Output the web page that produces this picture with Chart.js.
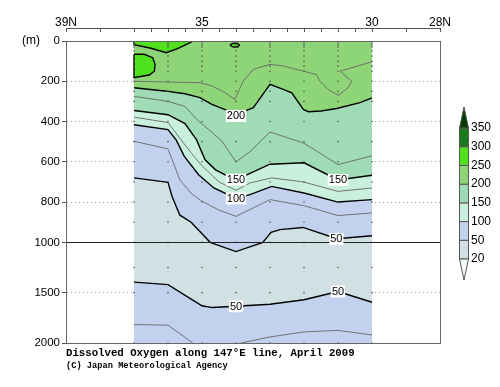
<!DOCTYPE html>
<html>
<head>
<meta charset="utf-8">
<script src="https://cdn.jsdelivr.net/npm/chart.js@4.4.1/dist/chart.umd.min.js"></script>
<style>
  html, body { margin: 0; padding: 0; background: #fff; }
</style>
</head>
<body>
<canvas id="ctx" width="500" height="387"></canvas>
<script>
// ---- values (latitude in degN, depth in m) ----
const stationLat = [37, 36, 35, 34, 33, 32, 31, 30];
const sampleDepth = [0, 10, 20, 30, 50, 75, 100, 125, 150, 200, 250, 300, 400, 500, 600, 700, 800, 900, 1000, 1250, 1500, 2000];

// colour levels (umol/kg) and the band colours between them
const levels = [20, 50, 100, 150, 200, 250, 300, 350];
const bandColors = ['#d1e0e3', '#c2d2ee', '#c9f0de', '#9fdcb6', '#8ed577', '#4fe11e', '#187c18'];
const overColor = '#033d03';
const underColor = '#f6f9f9';

// axis ticks
const xTickValues = [39, 38, 37, 36.5, 36, 35.5, 35, 34.5, 34, 33.5, 33, 32.5, 32, 31.5, 31, 30.5, 30, 29, 28];
const xLabelValues = [39, 35, 30, 28];
const xLabelText = ['39N', '35', '30', '28N'];
const yTickValues = [0, 200, 400, 600, 800, 1000, 1500, 2000];
const dottedDepths = [200, 400, 600, 800, 1500];
const breakDepth = 1000;

// thick contours
const lat50deep = [37, 36, 35, 34.7, 34, 33, 32, 31, 30];
const dep50deep = [1395, 1420, 1630, 1648, 1635, 1615, 1570, 1488, 1595];
const lat50 = [37, 36, 35.88, 35.65, 35.32, 34.76, 34, 33.21, 32.97, 32.71, 32.03, 31.03, 30];
const dep50 = [680, 702, 772, 865, 900, 1000, 1092, 1000, 950, 937, 926, 982, 967];
const lat100 = [37, 36, 35.76, 35.52, 35.1, 34.65, 34, 33.59, 32.95, 32, 31, 30];
const dep100 = [416, 440, 491, 573, 664, 730, 782, 763, 722, 755, 800, 788];
const lat150 = [37, 36, 35.5, 35.16, 34.91, 34.6, 34.23, 34, 33.59, 33, 32, 31, 30];
const dep150 = [345, 366, 410, 491, 590, 640, 672, 689, 657, 612, 605, 690, 667];
const lat200 = [37, 36.1, 35.5, 35.06, 34.71, 34.32, 34, 33.49, 33, 32.61, 32.36, 32.02, 31.87, 31.5, 31.04, 30.35, 30];
const dep200 = [232, 248, 262, 281, 315, 341, 365, 331, 215, 240, 257, 340, 351, 348, 335, 306, 282];

// closed 250 patches near the surface
const latBlobA = [37, 35.27, 35.35, 35.72, 36.05, 36.5, 37, 37];
const depBlobA = [0, 0, 8, 38, 58, 36, 18, 0];
const latBlobB = [37, 36.7, 36.45, 36.38, 36.4, 36.55, 36.9, 37, 37];
const depBlobB = [66, 66, 83, 116, 150, 169, 179, 182, 66];
const latBlobC = [34.18, 34.1, 33.97, 33.9, 33.95, 34.08, 34.18];
const depBlobC = [20, 12, 11, 20, 30, 30, 20];

// thin intermediate contours
const lat75deep = [37, 36, 35.27, null, 33.85, 33, 32, 31, 30];
const dep75deep = [1817, 1823, 2000, null, 2000, 1940, 1890, 1875, 1920];
const lat75 = [37, 36, 35.65, 35.3, 35, 34.5, 34, 33, 32, 31, 30];
const dep75 = [498, 536, 690, 760, 796, 840, 871, 788, 818, 867, 854];
const lat125 = [37, 36, 35.65, 35.3, 35, 34.5, 34, 33.59, 32.95, 32.02, 31, 30];
const dep125 = [378, 405, 483, 560, 620, 700, 742, 705, 680, 700, 747, 730];
const lat175 = [37, 36, 35.5, 35.15, 34.8, 34.42, 34, 33.59, 33, 32.5, 32.02, 31.5, 31, 30.5, 30];
const dep175 = [275, 300, 325, 390, 440, 497, 600, 550, 452, 480, 506, 560, 614, 592, 570];
const lat225 = [37, 35.06, 34.71, 34.32, 34.03, 33.79, 33.49, 33, 32.61, 32.02, 31.63, 31.53, 31.29, 30.99, 30.7, 30.6, 30.94, 30];
const dep225 = [200, 207, 223, 257, 290, 199, 141, 116, 124, 150, 167, 200, 241, 270, 232, 200, 150, 103];

// contour labels
const labelText = ['200', '150', '150', '100', '50', '50', '50'];
const labelLat = [34, 34, 31, 34, 31.05, 34, 31];
const labelDep = [372, 689, 690, 782, 983, 1635, 1488];

const titleText = 'Dissolved Oxygen along 147\u00b0E line, April 2009';
const creditText = '(C) Japan Meteorological Agency';

// depth axis: upper 1000 m takes 2/3 of the height, 1000-2000 m the rest
const UPPER_SHARE = 2 / 3;
class DepthScale extends Chart.LinearScale {
    getPixelForValue(value) {
        const d = value <= breakDepth
            ? value / breakDepth * UPPER_SHARE
            : UPPER_SHARE + (value - breakDepth) / (this.max - breakDepth) * (1 - UPPER_SHARE);
        return this.getPixelForDecimal(d);
    }
    getValueForPixel(pixel) {
        const d = this.getDecimalForPixel(pixel);
        return d <= UPPER_SHARE
            ? d / UPPER_SHARE * breakDepth
            : breakDepth + (d - UPPER_SHARE) / (1 - UPPER_SHARE) * (this.max - breakDepth);
    }
}
DepthScale.id = 'depth';
DepthScale.defaults = Chart.LinearScale.defaults;
Chart.register(DepthScale);

const pts = (lats, deps) => lats.map((x, i) => ({ x: x, y: deps[i] }));

function band(lats, deps, color, fill) {
    return {
        data: pts(lats, deps),
        backgroundColor: color,
        borderColor: '#000',
        borderWidth: 1.4,
        fill: fill,
        pointRadius: 0,
        tension: 0
    };
}
function thin(lats, deps) {
    return {
        data: pts(lats, deps),
        borderColor: '#666',
        borderWidth: 0.9,
        fill: false,
        pointRadius: 0,
        tension: 0,
        spanGaps: false
    };
}

// station sample points (drawn as the dotted station lines)
const dots = [];
stationLat.forEach(la => sampleDepth.forEach(d => dots.push({ x: la, y: d })));

// listed bottom layer first
const layers = [
    Object.assign(band([37, 30], [2000, 2000], bandColors[1], { value: 0 }), { borderWidth: 0 }),
    band(lat50deep, dep50deep, bandColors[0], { value: 0 }),
    band(lat50, dep50, bandColors[1], { value: 0 }),
    band(lat100, dep100, bandColors[2], { value: 0 }),
    band(lat150, dep150, bandColors[3], { value: 0 }),
    band(lat200, dep200, bandColors[4], { value: 0 }),
    band(latBlobA, depBlobA, bandColors[5], 'shape'),
    band(latBlobB, depBlobB, bandColors[5], 'shape'),
    band(latBlobC, depBlobC, bandColors[5], 'shape'),
    thin(lat75deep, dep75deep),
    thin(lat75, dep75),
    thin(lat125, dep125),
    thin(lat175, dep175),
    thin(lat225, dep225),
    {
        data: dots, showLine: false, pointRadius: 0.8, pointBorderWidth: 0,
        pointBackgroundColor: '#555', fill: false
    }
];
layers.forEach((ds, i) => { ds.order = layers.length - i; });

const sectionPlugin = {
    id: 'section',
    afterDatasetsDraw(chart) {
        const { ctx, chartArea: a, scales: { x, y } } = chart;
        ctx.save();
        // break line at 1000 m
        const yb = Math.round(y.getPixelForValue(breakDepth)) + 0.5;
        ctx.strokeStyle = '#222';
        ctx.lineWidth = 1;
        ctx.beginPath();
        ctx.moveTo(a.left, yb);
        ctx.lineTo(a.right, yb);
        ctx.stroke();
        // frame
        ctx.strokeStyle = '#666';
        ctx.strokeRect(Math.round(a.left) + 0.5, Math.round(a.top) + 0.5, Math.round(a.right - a.left), Math.round(a.bottom - a.top));
        // contour labels
        ctx.font = '11px "Liberation Sans", Arial, sans-serif';
        ctx.textAlign = 'center';
        ctx.textBaseline = 'middle';
        labelText.forEach((t, i) => {
            const px = x.getPixelForValue(labelLat[i]);
            const py = y.getPixelForValue(labelDep[i]);
            const w = ctx.measureText(t).width + 2;
            ctx.fillStyle = '#fff';
            ctx.fillRect(px - w / 2, py - 6, w, 12);
            ctx.fillStyle = '#000';
            ctx.fillText(t, px, py + 0.5);
        });
        ctx.restore();
    },
    afterDraw(chart) {
        const { ctx, chartArea: a } = chart;
        ctx.save();
        // captions
        ctx.fillStyle = '#000';
        ctx.textAlign = 'left';
        ctx.textBaseline = 'alphabetic';
        ctx.font = 'bold 10.7px "Liberation Mono", monospace';
        ctx.fillText(titleText, a.left, 356);
        ctx.font = 'bold 8.7px "Liberation Mono", monospace';
        ctx.fillText(creditText, a.left, 368);
        ctx.font = '12px "Liberation Sans", Arial, sans-serif';
        ctx.textBaseline = 'middle';
        ctx.fillText('(m)', 22, a.top);

        // colour bar
        const cbLeft = 459.5, cbW = 9, cbTop = 128, cbBottom = 259, tip = 21;
        const step = (cbBottom - cbTop) / bandColors.length;
        ctx.strokeStyle = '#555';
        ctx.lineWidth = 1;
        bandColors.forEach((c, i) => {
            const y1 = cbBottom - (i + 1) * step;
            ctx.fillStyle = c;
            ctx.fillRect(cbLeft, y1, cbW, step);
            ctx.strokeRect(cbLeft, y1, cbW, step);
        });
        ctx.beginPath();
        ctx.moveTo(cbLeft, cbTop);
        ctx.lineTo(cbLeft + cbW / 2, cbTop - tip);
        ctx.lineTo(cbLeft + cbW, cbTop);
        ctx.closePath();
        ctx.fillStyle = overColor;
        ctx.fill();
        ctx.stroke();
        ctx.beginPath();
        ctx.moveTo(cbLeft, cbBottom);
        ctx.lineTo(cbLeft + cbW / 2, cbBottom + tip);
        ctx.lineTo(cbLeft + cbW, cbBottom);
        ctx.closePath();
        ctx.fillStyle = underColor;
        ctx.fill();
        ctx.stroke();
        ctx.fillStyle = '#000';
        ctx.font = '12px "Liberation Sans", Arial, sans-serif';
        levels.forEach((lv, i) => ctx.fillText(String(lv), cbLeft + cbW + 2.5, cbBottom - i * step));
        ctx.restore();
    }
};

const axisFont = { family: '"Liberation Sans", Arial, sans-serif', size: 12 };

new Chart(document.getElementById('ctx'), {
    type: 'line',
    data: { datasets: layers },
    plugins: [sectionPlugin],
    options: {
        responsive: false,
        animation: false,
        events: [],
        layout: { padding: { left: 0, right: 60, top: 0, bottom: 44 }, autoPadding: false },
        plugins: {
            legend: { display: false },
            tooltip: { enabled: false },
            filler: { drawTime: 'beforeDatasetsDraw', propagate: false }
        },
        scales: {
            x: {
                type: 'linear', position: 'top', min: 28, max: 39, reverse: true, weight: 1,
                afterBuildTicks: s => { s.ticks = xTickValues.map(v => ({ value: v })); },
                afterFit: s => { s.height = 28; },
                ticks: {
                    autoSkip: false, maxRotation: 0, padding: 2, color: '#000', font: axisFont,
                    callback: v => { const i = xLabelValues.indexOf(v); return i < 0 ? '' : xLabelText[i]; }
                },
                grid: { drawOnChartArea: false, tickLength: -4, tickColor: '#555' },
                border: { color: '#555' }
            },
            gap: {
                type: 'linear', position: 'top', min: 28, max: 39, weight: 0,
                ticks: { display: false }, grid: { display: false }, border: { display: false },
                afterFit: s => { s.height = 13; }
            },
            y: {
                type: 'depth', min: 0, max: 2000, reverse: true,
                afterBuildTicks: s => { s.ticks = yTickValues.map(v => ({ value: v })); },
                afterFit: s => { s.width = 66; },
                ticks: { padding: 2, color: '#000', font: { family: axisFont.family, size: 11.5 }, callback: v => String(v) },
                grid: {
                    color: c => (c.tick && dottedDepths.includes(c.tick.value)) ? '#a0a0a0' : 'rgba(0,0,0,0)',
                    tickColor: '#555', tickLength: 4
                },
                border: { color: '#555', dash: [1, 3] }
            }
        }
    }
});
</script>
</body>
</html>
